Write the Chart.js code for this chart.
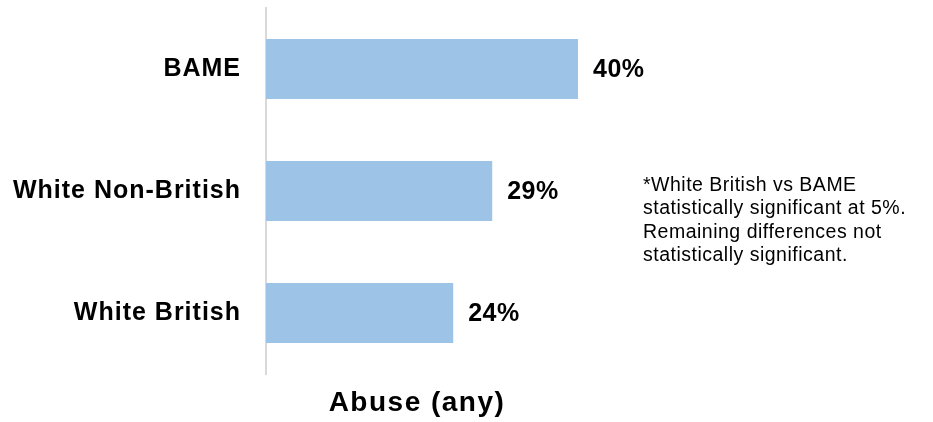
<!DOCTYPE html>
<html lang="en">
<head>
<meta charset="utf-8">
<script src="https://cdn.jsdelivr.net/npm/chart.js@4"></script>
<style>
  html, body { margin: 0; padding: 0; background: #fff; }
  #wrap { width: 933px; height: 422px; position: relative; }
</style>
</head>
<body>
<div id="wrap"><canvas id="abuseChart"></canvas></div>
<script>
  // Data
  const categories = ["BAME", "White Non-British", "White British"];
  const abusePct = [40, 29, 24];
  const axisTitle = "Abuse (any)";
  const noteLines = [
    "*White British vs BAME",
    "statistically significant at 5%.",
    "Remaining differences not",
    "statistically significant."
  ];

  const FONT = "'Liberation Sans', Arial, sans-serif";

  // Percent labels at the end of each bar, axis title and the side note
  const textPlugin = {
    id: "textPlugin",
    beforeDraw(chart) {
      chart.ctx.letterSpacing = "1px";
    },
    afterDatasetsDraw(chart) {
      const ctx = chart.ctx;
      const meta = chart.getDatasetMeta(0);
      ctx.save();
      ctx.fillStyle = "#000";
      ctx.font = "bold 25px " + FONT;
      ctx.letterSpacing = "0.5px";
      ctx.textAlign = "left";
      ctx.textBaseline = "middle";
      meta.data.forEach((bar, i) => {
        ctx.fillText(abusePct[i] + "%", bar.x + 15, bar.y + 1);
      });

      // x axis title
      ctx.font = "bold 28px " + FONT;
      ctx.letterSpacing = "1.5px";
      ctx.textAlign = "center";
      ctx.textBaseline = "alphabetic";
      ctx.fillText(axisTitle, 417, 411);

      // note on the right
      ctx.font = "19.5px " + FONT;
      ctx.letterSpacing = "0.5px";
      ctx.textAlign = "left";
      noteLines.forEach((line, i) => {
        ctx.fillText(line, 643, 191 + i * 23.4);
      });
      ctx.restore();
    }
  };

  const ctx = document.getElementById("abuseChart").getContext("2d");
  new Chart(ctx, {
    type: "bar",
    data: {
      labels: categories,
      datasets: [{
        data: abusePct,
        backgroundColor: "#9dc3e6",
        borderWidth: 0,
        categoryPercentage: 1,
        barPercentage: 0.49
      }]
    },
    options: {
      indexAxis: "y",
      responsive: true,
      maintainAspectRatio: false,
      animation: false,
      layout: { padding: { left: 0, top: 8, bottom: 48, right: 277 } },
      plugins: {
        legend: { display: false },
        tooltip: { enabled: false }
      },
      scales: {
        x: {
          display: false,
          min: 0,
          max: 50
        },
        y: {
          afterFit(scale) {
            scale.width = 266;
            scale.paddingTop = 0;
            scale.paddingBottom = 0;
          },
          grid: { display: false, drawTicks: false },
          border: { display: true, color: "#d9d9d9", width: 2 },
          ticks: {
            color: "#000",
            padding: 25,
            font: { family: FONT, size: 25, weight: "bold" }
          }
        }
      }
    },
    plugins: [textPlugin]
  });
</script>
</body>
</html>
